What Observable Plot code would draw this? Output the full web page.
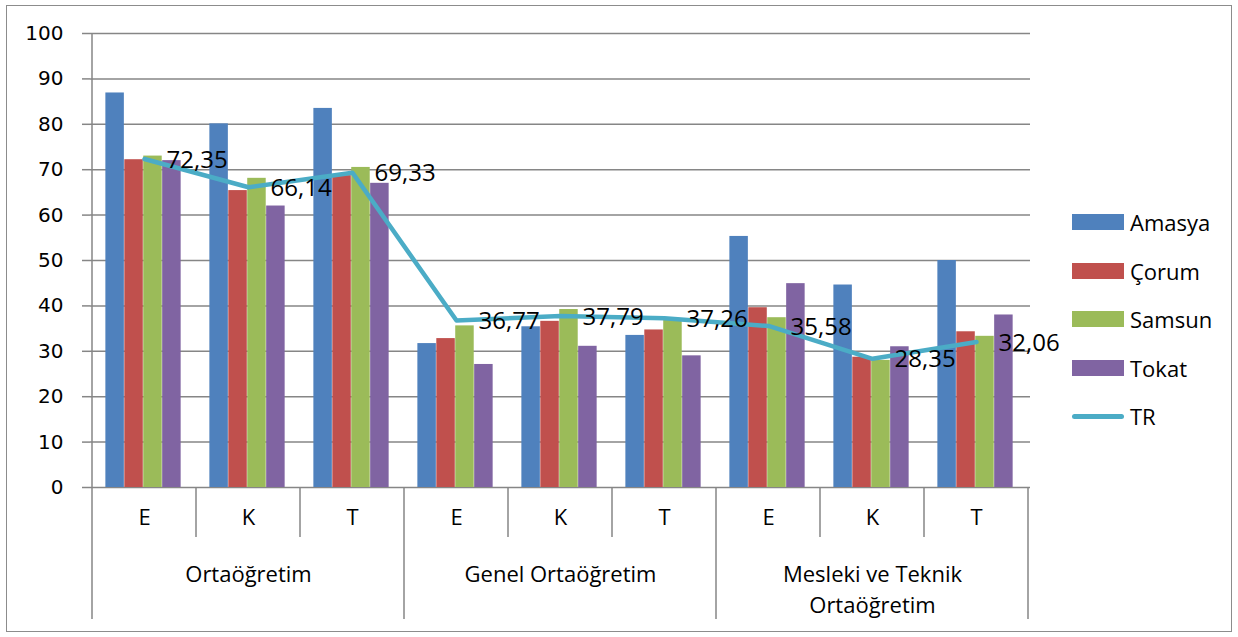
<!DOCTYPE html>
<html><head><meta charset="utf-8">
<script src="https://cdn.jsdelivr.net/npm/d3@7"></script>
<script src="https://cdn.jsdelivr.net/npm/@observablehq/plot@0.6"></script>
<style>
html,body{margin:0;padding:0;background:#fff;}
#wrap{position:relative;width:1238px;height:637px;overflow:hidden;}
#wrap svg{position:absolute;left:0;top:0;}
#border{position:absolute;left:6px;top:5px;width:1226px;height:627px;border:1.5px solid #8c8c8c;box-sizing:border-box;pointer-events:none}
.lg{position:absolute;left:1072px;height:30px;display:flex;align-items:center;font-family:"Open Sans",sans-serif;font-size:22px;color:#000;}
.sw{width:52px;height:16px;margin-right:6px;}
.ln{width:52px;height:5px;border-radius:3px;margin-right:6px;}
</style></head><body><div id="wrap"><div id="border"></div></div>
<script>
// ---- data ----
const groups = ["Ortaöğretim", "Genel Ortaöğretim", "Mesleki ve Teknik\nOrtaöğretim"];
const subs = ["E", "K", "T"];
const seriesNames = ["Amasya", "Çorum", "Samsun", "Tokat"];
const amasya = [86.9, 80.1, 83.5, 31.7, 35.4, 33.5, 55.3, 44.6, 50.0];
const corum  = [72.2, 65.4, 68.7, 32.8, 36.6, 34.7, 39.6, 28.7, 34.3];
const samsun = [73.0, 68.1, 70.5, 35.6, 39.2, 36.9, 37.4, 28.0, 33.3];
const tokat  = [72.0, 62.0, 67.0, 27.1, 31.1, 29.0, 44.9, 31.0, 38.0];
const trName = "TR";
const tr     = [72.35, 66.14, 69.33, 36.77, 37.79, 37.26, 35.58, 28.35, 32.06];
const yTicks = [0, 10, 20, 30, 40, 50, 60, 70, 80, 90, 100];

// ---- styles ----
const colors = ["#4F81BD", "#C0504D", "#9BBB59", "#8064A2"];
const trColor = "#4BACC6";
const gridColor = "#868686";

const W = 1238, H = 637, mL = 90, mR = 208, mT = 33, mB = 150;
const rows = [];
groups.forEach((g, gi) => subs.forEach((s, si) => rows.push({key: gi + "|" + s, group: g, gi, sub: s, si, i: gi * 3 + si})));
const keys = rows.map(d => d.key);
const seriesVals = [amasya, corum, samsun, tokat];

const bw = (W - mL - mR) / keys.length;
const groupW = bw * 0.725;
const off = bw * 0.128;
const barW = groupW / 4;

const fmt = v => v.toFixed(2).replace(".", ",");

const barMarks = seriesVals.map((vals, s) => Plot.barY(rows, {
  x: "key", y: d => vals[d.i], fill: colors[s],
  insetLeft: off + s * barW, insetRight: bw - off - (s + 1) * barW
}));

const groupRows = groups.map((g, gi) => ({g, key: gi + "|K"}));

const plot = Plot.plot({
  width: W, height: H,
  marginLeft: mL, marginRight: mR, marginTop: mT, marginBottom: mB,
  style: {fontFamily: "Open Sans, sans-serif", fontSize: "22px", color: "#000", background: "transparent", overflow: "visible"},
  x: {domain: keys, padding: 0, axis: null},
  y: {domain: [0, 100], axis: null},
  marks: [
    Plot.ruleY(yTicks, {stroke: gridColor, strokeWidth: 1.5}),
    ...barMarks,
    Plot.line(rows, {x: "key", y: d => tr[d.i], stroke: trColor, strokeWidth: 4.5, strokeLinejoin: "round", strokeLinecap: "round"}),
    Plot.text(rows, {x: "key", y: d => tr[d.i], text: d => fmt(tr[d.i]), textAnchor: "start", dx: 22, dy: 1, fontSize: 24, fill: "#000"}),
    Plot.axisY(yTicks, {tickSize: 8, tickPadding: 19, stroke: gridColor, strokeWidth: 1.5, fontSize: 20, fontFamily: "DejaVu Sans", fill: "#000", label: null}),
    Plot.text(rows, {x: "key", text: "sub", frameAnchor: "bottom", dy: 37, fontSize: 22, fill: "#000"}),
    Plot.text(groupRows, {x: "key", text: "g", frameAnchor: "bottom", lineAnchor: "top", dy: 72, lineHeight: 1.41, fontSize: 22, fill: "#000"})
  ]
});

// category separators below the axis, placed with the plot's x scale
const xs = plot.scale("x");
const svg = d3.select(plot);
const sep = svg.append("g").attr("stroke", gridColor).attr("stroke-width", 1.5);
const y0 = H - mB;
for (let i = 0; i <= keys.length; i++) {
  const px = i < keys.length ? xs.apply(keys[i]) : xs.apply(keys[keys.length - 1]) + xs.bandwidth;
  const major = i % 3 === 0;
  sep.append("line").attr("x1", px).attr("x2", px)
    .attr("y1", i === 0 ? mT : y0).attr("y2", major ? y0 + 132 : y0 + 50);
}
const wrap = document.getElementById("wrap");
wrap.insertBefore(plot, wrap.firstChild);

// legend
const legendItems = seriesNames.map((n, s) => ({n, c: colors[s], line: false})).concat([{n: trName, c: trColor, line: true}]);
legendItems.forEach((it, k) => {
  const el = document.createElement("div");
  el.className = "lg";
  el.style.top = (222 + k * 48.5 - 15) + "px";
  const sw = document.createElement("div");
  sw.className = it.line ? "ln" : "sw";
  sw.style.background = it.c;
  const tx = document.createElement("span");
  tx.textContent = it.n;
  el.appendChild(sw); el.appendChild(tx);
  wrap.appendChild(el);
});
</script>
</body></html>
